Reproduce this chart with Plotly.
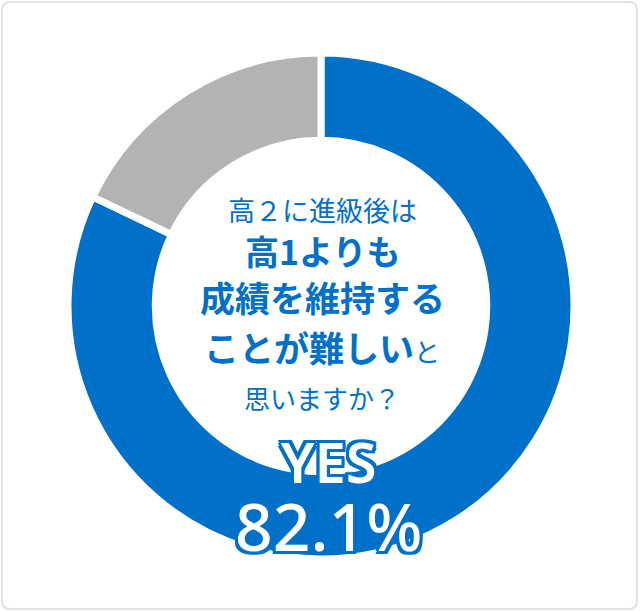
import plotly.graph_objects as go

# data
labels = ["YES", "NO"]
values = [82.1, 17.9]
colors = ["#0070C8", "#B3B3B3"]

question_lines = [
    "高２に進級後は",
    "<b>高1よりも</b>",
    "<b>成績を維持する</b>",
    "<b>ことが難しい</b><span style='font-size:26px'>と</span>",
    "思いますか？",
]
answer_label = "YES"
answer_value = "82.1%"

W, H = 640, 611
BLUE = "#0070C8"


def py(p):
    # pixel row -> paper y
    return 1 - p / H


# donut centre (321, 306), outer radius ~253 incl. white stroke
cx, cy, R = 321, 306, 253

fig = go.Figure(go.Pie(
    labels=labels,
    values=values,
    hole=0.655,
    sort=False,
    direction="clockwise",
    rotation=0,
    textinfo="none",
    hoverinfo="skip",
    marker=dict(colors=colors, line=dict(color="white", width=7)),
    domain=dict(x=[(cx - R) / W, (cx + R) / W], y=[py(cy + R), py(cy - R)]),
    showlegend=False,
))

# question text in the hole
line_y = [209, 250, 296, 346, 397]
line_size = [27, 34, 35, 35, 26]
for txt, yy, sz in zip(question_lines, line_y, line_size):
    fig.add_annotation(
        x=322 / W, y=py(yy), xref="paper", yref="paper",
        text=txt, showarrow=False, xanchor="center", yanchor="middle",
        font=dict(family="Noto Sans CJK JP", size=sz, color=BLUE),
    )

# answer label + value, one block so the two lines sit tight together
outline = ", ".join(
    f"{dx}px {dy}px 0 {BLUE}"
    for dx, dy in [(-3, -3), (0, -3), (3, -3), (-3, 0), (3, 0), (-3, 3), (0, 3), (3, 3)]
)
answer_text = (
    f"<span style='font-size:56px;font-weight:600'>{answer_label}</span>"
    f"<br><span style='font-size:66px'>{answer_value}</span>"
)
fig.add_annotation(
    x=328 / W, y=py(496), xref="paper", yref="paper",
    text=answer_text, showarrow=False, xanchor="center", yanchor="middle",
    font=dict(family="Noto Sans", size=52, color="white", weight=500, shadow=outline),
)

# rounded frame
x0, y0, x1, y1, r = 2 / W, py(609), 637 / W, py(2), 8
rx, ry = r / W, r / H
frame = (
    f"M {x0 + rx},{y1} L {x1 - rx},{y1} Q {x1},{y1} {x1},{y1 - ry} "
    f"L {x1},{y0 + ry} Q {x1},{y0} {x1 - rx},{y0} "
    f"L {x0 + rx},{y0} Q {x0},{y0} {x0},{y0 + ry} "
    f"L {x0},{y1 - ry} Q {x0},{y1} {x0 + rx},{y1} Z"
)
fig.add_shape(type="path", path=frame, xref="paper", yref="paper",
              line=dict(color="#E2E2E2", width=2))

fig.update_layout(
    width=W, height=H,
    margin=dict(l=0, r=0, t=0, b=0),
    paper_bgcolor="white",
    plot_bgcolor="white",
)

# drop the default body margin so the figure sits at the page corner
fig.write_html(
    "out.html",
    config={"displayModeBar": False},
    post_script="document.body.style.margin='0';",
)
